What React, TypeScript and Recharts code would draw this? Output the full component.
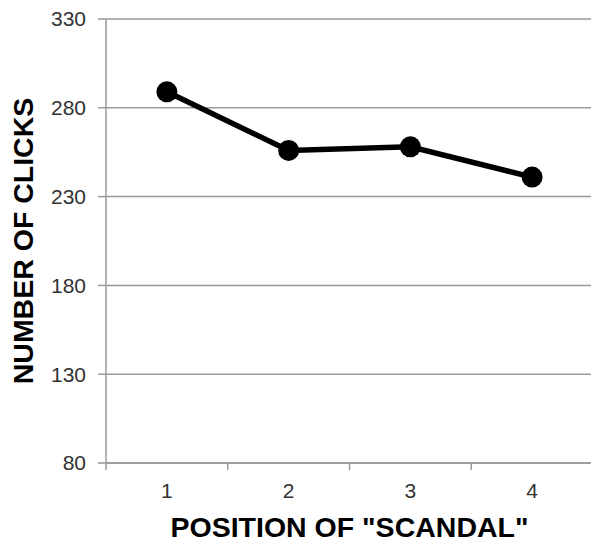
import { CartesianGrid, Line, LineChart, XAxis, YAxis } from 'recharts';

const positions = [1, 2, 3, 4];
const clicks = [289, 256, 258, 241];
const yTicks = [80, 130, 180, 230, 280, 330];
const xTicks = [0.5, 1, 1.5, 2, 2.5, 3, 3.5, 4, 4.5];

const data = positions.map((p, i) => ({ position: p, clicks: clicks[i] }));

const font = '"Liberation Sans", Arial, sans-serif';
const gray = '#999999';

function XTick(props: any) {
  const { x, y, payload } = props;
  const v = payload.value;
  if (!Number.isInteger(v)) {
    return <line x1={x} y1={y - 20} x2={x} y2={y - 13} stroke={gray} strokeWidth={1.5} />;
  }
  return (
    <text x={x} y={y} dy='0.71em' textAnchor='middle' fill='#333' fontSize={21} fontFamily={font}>
      {v}
    </text>
  );
}

function App() {
  return (
    <div style={{ position: 'absolute', left: 0, top: 0, width: 591, height: 542, overflow: 'hidden', background: '#fff' }}>
      <LineChart width={593} height={542} data={data} margin={{ top: 19, right: 0, bottom: 0, left: 0 }}>
        <CartesianGrid vertical={false} stroke={gray} strokeWidth={1.5} />
        <XAxis
          dataKey='position'
          type='number'
          domain={[0.5, 4.5]}
          ticks={xTicks}
          interval={0}
          height={79}
          tickSize={7}
          tickMargin={13}
          tickLine={false}
          tick={<XTick />}
          stroke={gray}
          strokeWidth={1.5}
          label={{
            value: 'POSITION OF "SCANDAL"',
            position: 'insideBottom',
            offset: 5,
            style: { fontSize: 28.5, fontWeight: 'bold', fill: '#000', fontFamily: font }
          }}
        />
        <YAxis
          domain={[80, 330]}
          ticks={yTicks}
          width={106}
          tickSize={8}
          tickMargin={12}
          stroke={gray}
          strokeWidth={1.5}
          tick={{ fill: '#333', fontSize: 21, fontFamily: font }}
          label={{
            value: 'NUMBER OF CLICKS',
            angle: -90,
            position: 'insideLeft',
            offset: 23,
            style: { textAnchor: 'middle', fontSize: 28.5, fontWeight: 'bold', fill: '#000', fontFamily: font }
          }}
        />
        <Line
          dataKey='clicks'
          stroke='#000'
          strokeWidth={5.5}
          dot={{ r: 10.5, fill: '#000', stroke: '#000', strokeWidth: 0 }}
          activeDot={false}
          isAnimationActive={false}
        />
      </LineChart>
    </div>
  );
}

export default App;
